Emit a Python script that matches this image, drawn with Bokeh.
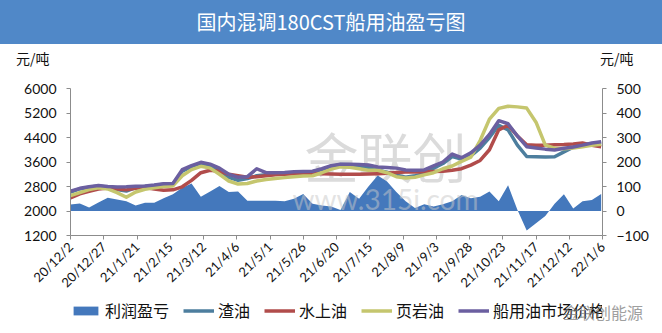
import math
import pandas as pd
from bokeh.plotting import figure
from bokeh.models import (Range1d, LinearAxis, FixedTicker, Legend, LegendItem,
                          Label, Div, ColumnDataSource)
from bokeh.layouts import column
from bokeh.embed import file_html
from bokeh.resources import INLINE

# ---- data (yuan/ton), weekly ----
start = pd.Timestamp("2020-12-02")
dates = pd.date_range(start, periods=58, freq="7D")

profit = [27, 31, 14, 35, 54, 47, 40, 22, 34, 34, 52, 68, 95, 112, 58, 80, 102, 78,
          80, 42, 42, 42, 42, 40, 50, 69, 30, 22, 18, 4, 78, 50, 100, 145, 120, 78,
          40, 12, 28, 18, 28, 40, 65, 52, 58, 80, 40, 105, 5, -80, -50, -20, 30, 68,
          10, 40, 45, 69]

residue = [2620, 2720, 2780, 2810, 2780, 2700, 2650, 2760, 2800, 2830, 2870, 2880,
           3300, 3450, 3560, 3480, 3320, 3100, 3000, 3060, 3150, 3180, 3200, 3220,
           3240, 3260, 3280, 3350, 3450, 3520, 3510, 3480, 3420, 3330, 3270, 3170,
           3100, 3150, 3220, 3400, 3550, 3780, 3700, 3800, 4050, 4400, 4800, 4650,
           4150, 3780, 3770, 3760, 3770, 3930, 4080, 4160, 4200, 4220]

straight_run = [2430, 2560, 2640, 2720, 2750, 2720, 2690, 2740, 2770, 2720, 2680, 2690,
                2790, 3000, 3250, 3330, 3300, 3200, 3150, 3100, 3120, 3150, 3180, 3200,
                3220, 3230, 3230, 3220, 3210, 3200, 3200, 3200, 3210, 3220, 3230, 3260,
                3270, 3270, 3280, 3290, 3300, 3330, 3380, 3500, 3650, 4000, 4650, 4800,
                4450, 4160, 4150, 4150, 4160, 4170, 4190, 4220, 4150, 4100]

shale = [2500, 2600, 2700, 2760, 2720, 2600, 2450, 2620, 2710, 2760, 2800, 2820,
         3150, 3350, 3460, 3400, 3200, 2980, 2880, 2900, 2980, 3030, 3060, 3090,
         3120, 3140, 3150, 3250, 3370, 3440, 3430, 3380, 3330, 3330, 3250, 3120,
         3080, 3100, 3180, 3250, 3380, 3470, 3620, 3760, 4300, 5000, 5350, 5420,
         5400, 5360, 4900, 4150, 4050, 4030, 4060, 4100, 4150, 4180]

market = [2650, 2740, 2790, 2830, 2800, 2780, 2790, 2810, 2820, 2850, 2890, 2900,
          3350, 3480, 3590, 3530, 3400, 3200, 3100, 3120, 3380, 3250, 3250, 3260,
          3280, 3290, 3300, 3380, 3480, 3530, 3530, 3520, 3500, 3440, 3420, 3400,
          3340, 3330, 3340, 3470, 3600, 3860, 3740, 3900, 4150, 4500, 4950, 4850,
          4450, 4100, 4060, 4020, 3990, 4050, 4090, 4150, 4220, 4260]

tick_labels = ["20/12/2", "20/12/27", "21/1/21", "21/2/15", "21/3/12", "21/4/6",
               "21/5/1", "21/5/26", "21/6/20", "21/7/15", "21/8/9", "21/9/3",
               "21/9/28", "21/10/23", "21/11/17", "21/12/12", "22/1/6"]

left_ticks = [1200, 2000, 2800, 3600, 4400, 5200, 6000]
right_ticks = [-100, 0, 100, 200, 300, 400, 500]

series_names = ["利润盈亏", "渣油", "水上油", "页岩油", "船用油市场价格"]
series_colors = ["#4478BC", "#4D7E9E", "#B14C4B", "#C5C66E", "#6B5FA0"]

# ---- derived positions (days since first date) ----
x_days = [(d - start).days for d in dates]
tick_dates = pd.to_datetime(["20" + t for t in tick_labels], format="%Y/%m/%d")
tick_days = [int((d - start).days) for d in tick_dates]

src = ColumnDataSource(dict(x=x_days, profit=profit, residue=residue,
                            straight_run=straight_run, shale=shale, market=market))

CJK = "Noto Sans CJK SC"
NUM = "Lato"
AXIS_GRAY = "#8C8C8C"

# header: blue title band plus the unit captions row
header = Div(
    text=(
        '<div style="width:662px;height:44px;line-height:44px;text-align:center;'
        'background:#5088C8;color:#FFFFFF;font-size:20px;'
        'font-family:\'Noto Sans CJK SC\';">国内混调180CST船用油盈亏图</div>'
        '<div style="position:relative;width:662px;height:28px;'
        'font-family:\'Noto Sans CJK SC\';font-size:14px;color:#111;line-height:28px;">'
        '<span style="position:absolute;left:16px;top:0;">元/吨</span>'
        '<span style="position:absolute;left:600px;top:0;">元/吨</span></div>'
    ),
    width=662, height=72, margin=0,
)

p = figure(width=662, height=228, x_range=Range1d(0, 400), y_range=Range1d(1200, 6000),
           title=None, output_backend="svg", toolbar_location=None,
           min_border_left=70, min_border_right=60, min_border_top=16, min_border_bottom=65,
           background_fill_color="white", border_fill_color="white")
p.outline_line_color = None
p.xgrid.visible = False
p.ygrid.visible = False
p.extra_y_ranges = {"profit": Range1d(-100, 500)}


def style_axis(ax, size):
    ax.minor_tick_line_color = None
    ax.major_tick_in = 0
    ax.major_tick_out = 4
    ax.axis_line_color = AXIS_GRAY
    ax.major_tick_line_color = AXIS_GRAY
    ax.major_label_text_font = NUM
    ax.major_label_text_font_size = size
    ax.major_label_text_color = "#111111"


# left axis (prices)
ya = p.yaxis[0]
ya.ticker = FixedTicker(ticks=left_ticks)
style_axis(ya, "14px")
ya.major_label_standoff = 10

# right axis (profit)
ra = LinearAxis(y_range_name="profit", ticker=FixedTicker(ticks=right_ticks))
style_axis(ra, "14px")
ra.major_label_standoff = 10
p.add_layout(ra, "right")

# date axis
xa = p.xaxis[0]
xa.ticker = FixedTicker(ticks=tick_days)
xa.major_label_overrides = {d: t for d, t in zip(tick_days, tick_labels)}
xa.major_label_orientation = math.pi / 4
style_axis(xa, "13px")
xa.major_label_standoff = 5

# watermark
p.add_layout(Label(x=315, y=80, x_units="screen", y_units="screen", text="金联创",
                   text_font=CJK, text_font_size="54px", text_color="#BDBDBD",
                   text_alpha=0.55, text_align="center", text_baseline="middle",
                   level="underlay"))

# profit area on the right scale, price lines on the left scale
p.varea(x="x", y1=0, y2="profit", source=src, y_range_name="profit",
        fill_color=series_colors[0])
lw = 3.5
for col, color in zip(["residue", "straight_run", "shale", "market"], series_colors[1:]):
    p.line("x", col, source=src, line_color=color, line_width=lw, line_join="round")

p.add_layout(Label(x=315, y=37, x_units="screen", y_units="screen", text="www.315i.com",
                   text_font=NUM, text_font_size="28px", text_color="#C8C8C8",
                   text_alpha=0.5, text_align="center", text_baseline="middle"))

# legend strip underneath (its frame lines up with the chart frame)
lg = figure(width=662, height=33, x_range=Range1d(0, 1), y_range=Range1d(0, 1),
            title=None, output_backend="svg", toolbar_location=None,
            x_axis_location=None, y_axis_location=None,
            min_border_left=70, min_border_right=60, min_border_top=0, min_border_bottom=0,
            background_fill_color="white", border_fill_color="white")
lg.outline_line_color = None
lg.xgrid.visible = False
lg.ygrid.visible = False
nan = float("nan")
swatches = [lg.varea(x=[nan], y1=[nan], y2=[nan], fill_color=series_colors[0])]
for color in series_colors[1:]:
    swatches.append(lg.line(x=[nan], y=[nan], line_color=color, line_width=lw))

legend = Legend(items=[LegendItem(label=n, renderers=[r]) for n, r in zip(series_names, swatches)],
                orientation="horizontal", location=(0, 11),
                label_text_font=CJK, label_text_font_size="16px", label_text_color="#111111",
                glyph_width=31, glyph_height=11, label_height=20, label_standoff=4, spacing=14,
                padding=0, margin=0, border_line_color=None, background_fill_alpha=0)
lg.add_layout(legend, "center")

# account mark laid over the lower right corner
mark = Div(text='<div style="font-family:\'Noto Sans CJK SC\';font-size:16px;'
                'color:#777777;opacity:0.7;line-height:20px;white-space:nowrap;">金联创能源</div>',
           width=90, height=20, margin=(-31, 0, 0, 563))

layout = column(header, p, lg, mark, spacing=0)
open("out.html", "w").write(file_html(layout, INLINE))
